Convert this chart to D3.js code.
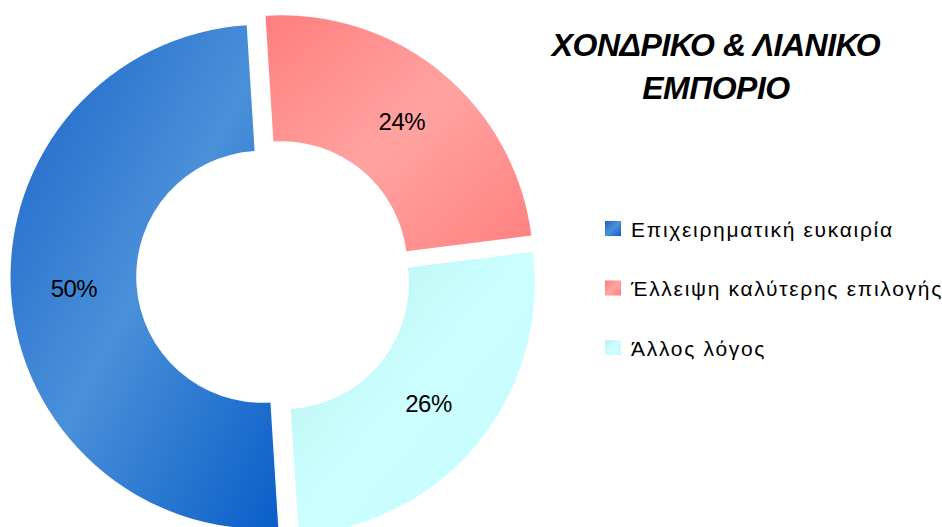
<!DOCTYPE html>
<html>
<head>
<meta charset="utf-8">
<title>Χονδρικό & λιανικό εμπόριο</title>
<script src="https://cdn.jsdelivr.net/npm/d3@7"></script>
<style>
  body { margin: 0; background: #fff; }
  svg { display: block; font-family: "Liberation Sans", Arial, sans-serif; }
</style>
</head>
<body>
<script>
// data
var categories = ["Επιχειρηματική ευκαιρία", "Έλλειψη καλύτερης επιλογής", "Άλλος λόγος"];
var values = [50, 24, 26];
var labels = ["50%", "24%", "26%"];
var titleLines = ["ΧΟΝΔΡΙΚΟ & ΛΙΑΝΙΚΟ", "ΕΜΠΟΡΙΟ"];

// gradient stops per slice: [edge, middle, far edge]
var shades = [
    ["#1a64c9", "#4a90d9", "#0a5ec8"],
    ["#ff7e7e", "#ffa3a1", "#ff8080"],
    ["#b9efec", "#ccffff", "#c6fafa"]
];

var width = 942, height = 527;
var cx = 274, cy = 276;
var rInner = 126, rOuter = 252, explode = 11.5;

var svg = d3.select("body").append("svg")
    .attr("width", width).attr("height", height);

var defs = svg.append("defs");
shades.forEach(function(s, i) {
    var g = defs.append("linearGradient").attr("id", "grad" + i)
        .attr("x1", 0).attr("y1", 0).attr("x2", 1).attr("y2", 1);
    g.append("stop").attr("offset", "0%").attr("stop-color", s[0]);
    g.append("stop").attr("offset", "50%").attr("stop-color", s[1]);
    g.append("stop").attr("offset", "100%").attr("stop-color", s[2]);
});

var start = 176.4 * Math.PI / 180;
var pie = d3.pie().sort(null).value(function(d) { return d; })
    .startAngle(start).endAngle(start + 2 * Math.PI);
var arc = d3.arc().innerRadius(rInner).outerRadius(rOuter);
var labelArc = d3.arc().innerRadius((rInner + rOuter) / 2).outerRadius((rInner + rOuter) / 2);

var arcs = pie(values);

var chart = svg.append("g").attr("transform", "translate(" + cx + "," + cy + ")");

var slices = chart.selectAll("g.slice").data(arcs).enter().append("g")
    .attr("class", "slice")
    .attr("transform", function(d) {
        var a = (d.startAngle + d.endAngle) / 2;
        return "translate(" + (Math.sin(a) * explode) + "," + (-Math.cos(a) * explode) + ")";
    });

slices.append("path")
    .attr("d", arc)
    .attr("fill", function(d, i) { return "url(#grad" + i + ")"; });

slices.append("text")
    .attr("transform", function(d) { return "translate(" + labelArc.centroid(d) + ")"; })
    .attr("text-anchor", "middle")
    .attr("dy", "0.36em")
    .attr("font-size", 24)
    .attr("letter-spacing", -0.5)
    .attr("fill", "#000")
    .text(function(d, i) { return labels[i]; });

// title
svg.append("g").selectAll("text").data(titleLines).enter().append("text")
    .attr("x", 716)
    .attr("y", function(d, i) { return 56 + i * 43; })
    .attr("text-anchor", "middle")
    .attr("font-size", 32)
    .attr("font-weight", "bold")
    .attr("font-style", "italic")
    .attr("letter-spacing", -0.5)
    .text(function(d) { return d; });

// legend
var legend = svg.append("g").attr("transform", "translate(605,221)");
var rows = legend.selectAll("g").data(categories).enter().append("g")
    .attr("transform", function(d, i) { return "translate(0," + (i * 59.5) + ")"; });
rows.append("rect")
    .attr("width", 16).attr("height", 15)
    .attr("fill", function(d, i) { return "url(#grad" + i + ")"; });
rows.append("text")
    .attr("x", 26).attr("y", 15.5)
    .attr("font-size", 21)
    .attr("letter-spacing", 1.7)
    .text(function(d) { return d; });
</script>
</body>
</html>
